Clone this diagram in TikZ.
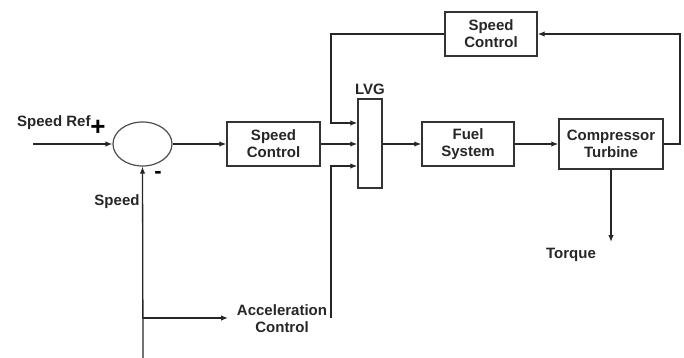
\documentclass[tikz,border=0pt]{standalone}
\usepackage{fontspec}
\setmainfont{Liberation Sans}
\usetikzlibrary{arrows.meta,shapes.geometric}
\begin{document}
\begin{tikzpicture}[x=1pt,y=-1pt,
  lbl/.style={font=\fontsize{15}{17}\selectfont\bfseries, text=black!85, align=center, inner sep=0pt},
  blk/.style={draw=black!80, line width=1.4pt, lbl, minimum width=#1, minimum height=44pt},
  wire/.style={draw=black!85, line width=1.3pt},
  arr/.style={wire, -{Latex[length=7pt,width=5.5pt]}}]
\useasboundingbox (0,0) rectangle (684,358);
\node[draw=black!70, line width=1.2pt, ellipse, minimum width=59pt, minimum height=44pt, inner sep=0pt] (sum) at (142.5,144) {};
\node[blk=93pt] (sc) at (273.5,144) {Speed\\Control};
\node[draw=black!80, line width=1.4pt, minimum width=24pt, minimum height=89pt, inner sep=0pt] (lvg) at (370,143.5) {};
\node[lbl, anchor=south] (lvgl) at (370,95) {LVG};
\node[blk=92pt] (fuel) at (468,144) {Fuel\\System};
\node[blk=104pt, minimum height=50pt] (ct) at (611,144) {Compressor\\Turbine};
\node[blk=92pt] (sc2) at (491,34) {Speed\\Control};
\node[lbl] (acc) at (282,319) {Acceleration\\Control};
\node[lbl, anchor=south west] (sref) at (17,130) {Speed Ref};
\node[font=\fontsize{26}{26}\selectfont\bfseries, inner sep=0pt] (plus) at (98,128) {+};
\node[font=\fontsize{22}{22}\selectfont\bfseries, inner sep=0pt] (minus) at (158,175) {-};
\node[lbl] (spd) at (117,202) {Speed};
\node[lbl] (torq) at (571,255) {Torque};
\coordinate (in) at (33,144);
\coordinate (sbot) at (143,358);
\coordinate (tend) at (611,242);
\draw[arr] (in) -- (sum.west);
\draw[arr] (sbot) -- (sum.south);
\draw[arr] (143,318) -- (228,318);
\draw[arr] (sum.east) -- (sc.west);
\draw[arr] (sc.east) -- (sc.east -| lvg.west);
\draw[arr] (sc2.west) -- (331,34) -- (331,123) -- (lvg.west |- 0,123);
\draw[arr] (331,318) -- (331,166) -- (lvg.west |- 0,166);
\draw[arr] (fuel.west -| lvg.east) -- (fuel.west);
\draw[arr] (fuel.east) -- (ct.west);
\draw[arr] (ct.east) -- (680,144) -- (680,34) -- (sc2.east);
\draw[arr] (ct.south) -- (tend);
\end{tikzpicture}
\end{document}
